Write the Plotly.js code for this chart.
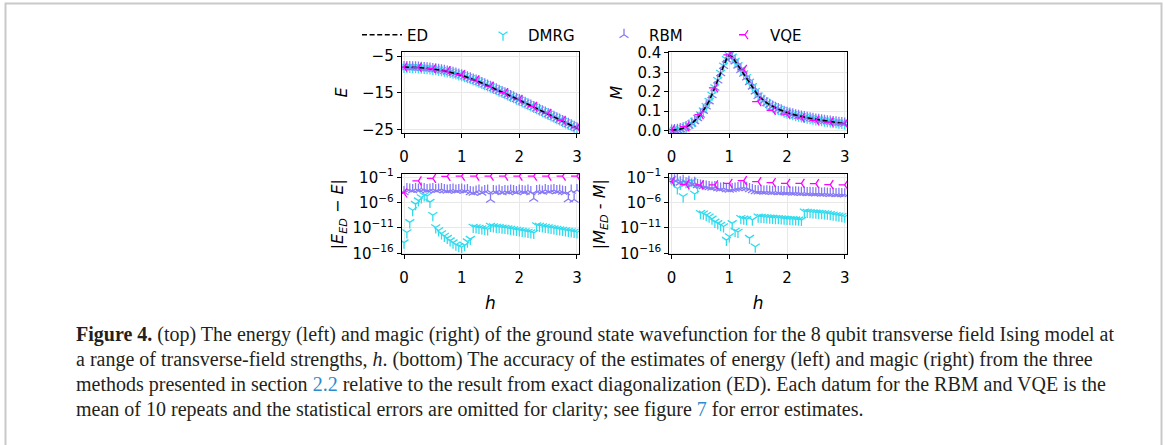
<!DOCTYPE html>
<html>
<head>
<meta charset="utf-8">
<script src="https://cdn.plot.ly/plotly-3.0.1.min.js"></script>
<style>
html,body{margin:0;padding:0;background:#ffffff;}
#chart{width:1165px;height:445px;}
</style>
</head>
<body>
<div id="chart"></div>
<script>
// ---------------- data ----------------
const h = [0,0.05,0.1,0.15,0.2,0.25,0.3,0.35,0.4,0.45,0.5,0.55,0.6,0.65,0.7,0.75,0.8,0.85,0.9,0.95,
           1,1.05,1.1,1.15,1.2,1.25,1.3,1.35,1.4,1.45,1.5,1.55,1.6,1.65,1.7,1.75,1.8,1.85,1.9,1.95,
           2,2.05,2.1,2.15,2.2,2.25,2.3,2.35,2.4,2.45,2.5,2.55,2.6,2.65,2.7,2.75,2.8,2.85,2.9,2.95,3];
const hVQE = [0,0.25,0.5,0.75,1,1.25,1.5,1.75,2,2.25,2.5,2.75,3];

// exact diagonalisation: ground-state energy and magic
const energyED = [-8.000,-8.005,-8.020,-8.045,-8.080,-8.126,-8.181,-8.248,-8.323,-8.411,
  -8.509,-8.620,-8.741,-8.877,-9.024,-9.189,-9.365,-9.562,-9.773,-10.005,
  -10.252,-10.518,-10.795,-11.089,-11.392,-11.707,-12.029,-12.360,-12.696,-13.038,
  -13.385,-13.735,-14.090,-14.448,-14.809,-15.172,-15.537,-15.905,-16.274,-16.645,
  -17.018,-17.392,-17.768,-18.144,-18.522,-18.901,-19.281,-19.662,-20.043,-20.426,
  -20.809,-21.193,-21.577,-21.962,-22.348,-22.734,-23.120,-23.507,-23.895,-24.283,-24.672];
const magicED = [0.002,0.003,0.005,0.008,0.013,0.019,0.027,0.037,0.050,0.065,
  0.083,0.103,0.126,0.152,0.184,0.222,0.260,0.297,0.334,0.368,
  0.388,0.380,0.358,0.336,0.314,0.294,0.275,0.251,0.228,0.203,
  0.180,0.166,0.154,0.143,0.134,0.125,0.118,0.111,0.105,0.098,
  0.092,0.088,0.084,0.080,0.077,0.073,0.070,0.067,0.064,0.061,
  0.058,0.056,0.053,0.051,0.049,0.047,0.045,0.043,0.041,0.039,0.037];

// DMRG and RBM estimates coincide with ED at the scale of the top panels
const energyDMRG = energyED;
const magicDMRG = magicED;
const energyRBM = energyED;
const magicRBM = magicED;

// VQE estimates (13 field values)
const energyVQE = [-8.000,-8.106,-8.446,-9.031,-10.074,-11.529,-13.207,-14.994,-16.840,-18.723,-20.631,-22.556,-24.494];
const magicVQE = [0.005,0.021,0.083,0.220,0.390,0.315,0.150,0.105,0.085,0.066,0.053,0.044,0.037];

// absolute errors relative to ED, stored as log10 values
const errEnergyDMRGlog = [-13.9,-11.9,-9.9,-7.5,-6.3,-5.6,-5.0,-4.6,-4.7,-5.9,
  -8.5,-10.9,-11.5,-12.1,-12.6,-13.0,-13.5,-13.9,-14.3,-14.6,
  -14.8,-14.4,-13.7,-13.2,-10.8,-10.9,-11.0,-11.1,-11.2,-11.3,
  -10.6,-10.7,-10.8,-10.85,-10.95,-11.0,-11.1,-11.2,-11.3,-11.4,
  -11.5,-11.6,-11.7,-11.8,-11.9,-12.0,-10.5,-10.6,-10.7,-10.8,
  -10.9,-11.0,-11.1,-11.2,-11.3,-11.4,-11.5,-11.6,-11.7,-11.8,-11.9];
const errEnergyRBMlog = [-3.9,-3.3,-3.4,-3.5,-3.3,-3.4,-3.2,-3.3,-3.5,-3.4,
  -3.3,-3.5,-3.4,-3.3,-3.5,-3.6,-3.5,-3.4,-3.6,-3.5,
  -3.4,-3.6,-3.5,-3.9,-4.0,-3.8,-3.6,-4.0,-3.7,-3.6,
  -5.4,-3.7,-3.8,-3.6,-3.9,-3.7,-3.8,-3.6,-3.7,-3.9,
  -3.6,-3.7,-3.8,-3.6,-3.9,-5.2,-3.7,-3.6,-3.8,-3.5,
  -3.7,-3.6,-3.5,-3.7,-3.6,-3.8,-3.9,-5.3,-3.6,-5.4,-3.5];
const errEnergyVQElog = [-4.1,-1.7,-1.2,-0.8,-0.75,-0.75,-0.75,-0.75,-0.75,-0.75,-0.75,-0.75,-0.75];

const errMagicDMRGlog = [-1.4,-1.9,-3.2,-2.3,-4.8,-2.0,-2.4,-1.8,-4.3,-3.0,
  -8.1,-8.2,-8.5,-8.8,-9.2,-9.8,-10.1,-10.4,-10.7,-13.4,
  -12.7,-10.1,-11.6,-11.8,-9.1,-9.2,-9.3,-13.0,-9.4,-14.7,
  -8.8,-8.85,-8.9,-8.95,-9.0,-9.05,-9.1,-9.1,-9.15,-9.2,
  -9.25,-9.3,-9.3,-9.35,-9.4,-9.45,-7.8,-7.85,-7.9,-7.95,
  -8.0,-8.05,-8.1,-8.15,-8.2,-8.3,-8.4,-8.5,-8.6,-8.7,-8.8];
const errMagicRBMlog = [-1.2,-1.6,-1.5,-2.0,-1.7,-2.2,-1.9,-2.4,-2.1,-2.5,
  -2.6,-2.7,-2.8,-2.9,-3.0,-2.9,-3.1,-3.2,-3.1,-3.3,
  -3.4,-3.3,-3.2,-3.1,-3.0,-2.95,-3.05,-3.3,-3.5,-3.7,
  -3.75,-3.7,-3.8,-3.75,-3.8,-3.85,-3.8,-3.9,-3.85,-3.9,
  -3.95,-3.9,-4.0,-3.95,-4.0,-4.05,-4.0,-4.1,-4.05,-4.1,
  -4.15,-4.1,-4.2,-4.15,-4.2,-4.25,-4.2,-4.3,-4.25,-4.3,-4.35];
const errMagicVQElog = [-1.8,-2.4,-2.5,-2.5,-2.2,-1.65,-1.85,-2.05,-2.2,-2.2,-2.25,-2.45,-2.5];

const yTickLogVals = [1e-1,1e-6,1e-11,1e-16];
const yTickLogText = ['10<sup>−1</sup>','10<sup>−6</sup>','10<sup>−11</sup>','10<sup>−16</sup>'];

const captionLines = [
  '<b>Figure 4.</b> (top) The energy (left) and magic (right) of the ground state wavefunction for the 8 qubit transverse field Ising model at',
  'a range of transverse-field strengths, <i>h</i>. (bottom) The accuracy of the estimates of energy (left) and magic (right) from the three',
  'methods presented in section <span style="color:#2b8bcc">2.2</span> relative to the result from exact diagonalization (ED). Each datum for the RBM and VQE is the',
  'mean of 10 repeats and the statistical errors are omitted for clarity; see figure <span style="color:#2b8bcc">7</span> for error estimates.'
];

// ---------------- styling ----------------
const W = 1165, H = 445;
const colDMRG = '#2fdcef';
const colRBM = '#8679f6';
const colVQE = '#ff00ff';
const tickFont = {family: 'DejaVu Sans, Verdana, sans-serif', size: 15, color: '#000'};
const pow10 = a => a.map(v => Math.pow(10, v));

function mk(x, y, name, color, symbol, xa, ya, show, rank) {
  return {x: x, y: y, name: name, type: 'scatter', mode: 'markers', xaxis: xa, yaxis: ya,
    showlegend: show, legendrank: rank,
    marker: {symbol: symbol, size: 7.5, color: color, line: {color: color, width: 1.3}},
    hoverinfo: 'skip'};
}
function edLine(x, y, xa, ya, show) {
  return {x: x, y: y, name: 'ED', type: 'scatter', mode: 'lines', xaxis: xa, yaxis: ya,
    showlegend: show, legendrank: 1,
    line: {color: '#000', width: 1.6, dash: '5px,2.6px'}, hoverinfo: 'skip'};
}

const traces = [
  // top-left: energy
  mk(h, energyDMRG, 'DMRG', colDMRG, 'y-down', 'x', 'y', true, 2),
  mk(h, energyRBM, 'RBM', colRBM, 'y-up', 'x', 'y', true, 3),
  edLine(h, energyED, 'x', 'y', true),
  mk(hVQE, energyVQE, 'VQE', colVQE, 'y-left', 'x', 'y', true, 4),
  // top-right: magic
  mk(h, magicDMRG, 'DMRG', colDMRG, 'y-down', 'x2', 'y2', false, 2),
  mk(h, magicRBM, 'RBM', colRBM, 'y-up', 'x2', 'y2', false, 3),
  edLine(h, magicED, 'x2', 'y2', false),
  mk(hVQE, magicVQE, 'VQE', colVQE, 'y-left', 'x2', 'y2', false, 4),
  // bottom-left: energy error
  mk(h, pow10(errEnergyDMRGlog), 'DMRG', colDMRG, 'y-down', 'x3', 'y3', false, 2),
  mk(h, pow10(errEnergyRBMlog), 'RBM', colRBM, 'y-up', 'x3', 'y3', false, 3),
  mk(hVQE, pow10(errEnergyVQElog), 'VQE', colVQE, 'y-left', 'x3', 'y3', false, 4),
  // bottom-right: magic error
  mk(h, pow10(errMagicDMRGlog), 'DMRG', colDMRG, 'y-down', 'x4', 'y4', false, 2),
  mk(h, pow10(errMagicRBMlog), 'RBM', colRBM, 'y-up', 'x4', 'y4', false, 3),
  mk(hVQE, pow10(errMagicVQElog), 'VQE', colVQE, 'y-left', 'x4', 'y4', false, 4)
];

const px = v => v / W;
const py = v => 1 - v / H;

function xAxis(d0, d1, anchor, titleText) {
  const a = {domain: [px(d0), px(d1)], anchor: anchor, range: [-0.04, 3.04],
    tickvals: [0,1,2,3], ticks: 'outside', ticklen: 4, tickwidth: 1, tickcolor: '#000',
    ticklabelstandoff: 6,
    showline: true, mirror: true, linecolor: '#000', linewidth: 1,
    showgrid: true, gridcolor: '#e8e8e8', gridwidth: 1, zeroline: false,
    tickfont: tickFont};
  if (titleText) a.title = {text: titleText, font: {family: 'DejaVu Sans, sans-serif', size: 17, color: '#000'}, standoff: 10};
  return a;
}
function yAxis(d0, d1, anchor, extra) {
  return Object.assign({domain: [py(d1), py(d0)], anchor: anchor,
    ticks: 'outside', ticklen: 4, tickwidth: 1, tickcolor: '#000',
    showline: true, mirror: true, linecolor: '#000', linewidth: 1,
    showgrid: true, gridcolor: '#e8e8e8', gridwidth: 1, zeroline: false,
    tickfont: tickFont}, extra);
}
const titleFont = {family: 'DejaVu Sans, sans-serif', size: 16, color: '#000'};

const capY = [334, 359, 384, 409];
const annotations = captionLines.map((t, i) => ({
  text: t, xref: 'paper', yref: 'paper', x: px(74), y: py(capY[i]),
  xanchor: 'left', yanchor: 'middle', align: 'left', showarrow: false,
  font: {family: 'Liberation Serif, Times New Roman, serif', size: 20, color: '#231f20'}
}));

const layout = {
  width: W, height: H,
  margin: {l: 0, r: 0, t: 0, b: 0},
  paper_bgcolor: '#fff', plot_bgcolor: '#fff',
  showlegend: true,
  legend: {orientation: 'h', x: px(357), xanchor: 'left', y: py(35), yanchor: 'middle',
    entrywidth: 66, entrywidthmode: 'pixels', itemwidth: 40,
    font: {family: 'DejaVu Sans, sans-serif', size: 15, color: '#000'},
    bgcolor: 'rgba(0,0,0,0)', borderwidth: 0, traceorder: 'normal'},
  xaxis: xAxis(401.7, 579.3, 'y'),
  yaxis: yAxis(52, 133, 'x', {range: [-26.0, -3.9], tickvals: [-5,-15,-25],
    title: {text: '<i>E</i>', font: titleFont, standoff: 10}}),
  xaxis2: xAxis(669.3, 847, 'y2'),
  yaxis2: yAxis(52, 133, 'x2', {range: [-0.012, 0.405], tickvals: [0,0.1,0.2,0.3,0.4],
    ticktext: ['0.0','0.1','0.2','0.3','0.4'],
    title: {text: '<i>M</i>', font: titleFont, standoff: 10}}),
  xaxis3: xAxis(401.7, 579.3, 'y3', '<i>h</i>'),
  yaxis3: yAxis(174, 254.3, 'x3', {type: 'log', range: [-16.2, -0.35],
    tickvals: yTickLogVals, ticktext: yTickLogText,
    title: {text: '|<i>E<sub>ED</sub></i> − <i>E</i>|', font: titleFont, standoff: 4}}),
  xaxis4: xAxis(669.3, 847, 'y4', '<i>h</i>'),
  yaxis4: yAxis(174, 254.3, 'x4', {type: 'log', range: [-16.2, -0.35],
    tickvals: yTickLogVals, ticktext: yTickLogText,
    title: {text: '|<i>M<sub>ED</sub></i> - <i>M</i>|', font: titleFont, standoff: 10}}),
  annotations: annotations,
  shapes: [{type: 'rect', xref: 'paper', yref: 'paper',
    x0: px(5.5), x1: px(1161.5), y0: py(470), y1: py(3.5),
    line: {color: '#c9c9c9', width: 2}, fillcolor: 'rgba(0,0,0,0)', layer: 'below'}]
};

Plotly.newPlot('chart', traces, layout, {staticPlot: true, displayModeBar: false});
</script>
</body>
</html>
